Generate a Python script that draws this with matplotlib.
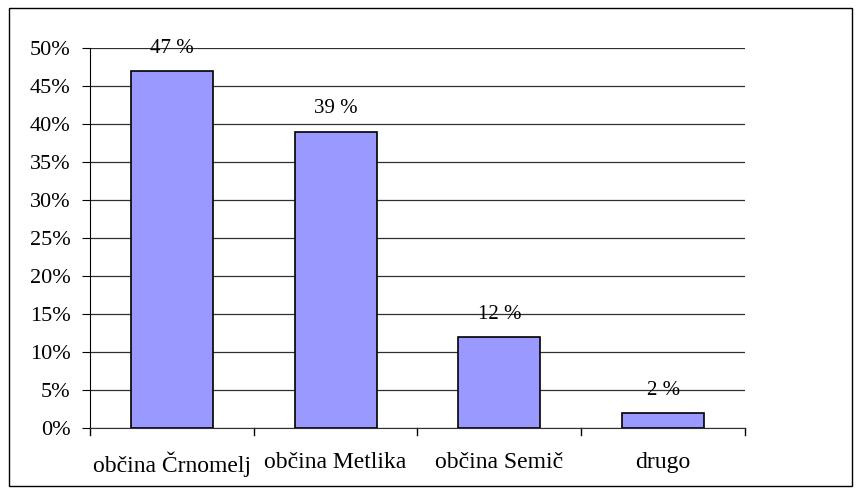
import matplotlib
matplotlib.use("Agg")
import matplotlib.pyplot as plt
from matplotlib.patches import Rectangle
from matplotlib.ticker import FuncFormatter, MultipleLocator

categories = ["občina Črnomelj", "občina Metlika", "občina Semič", "drugo"]
values = [47, 39, 12, 2]
labels = ["47 %", "39 %", "12 %", "2 %"]

plt.rcParams['font.family'] = ['Liberation Serif', 'DejaVu Serif']

W, H = 862, 494
fig = plt.figure(figsize=(W / 100, H / 100), dpi=100)
fig.patch.set_facecolor("white")
fig.add_artist(Rectangle((9 / W, 1 - 486 / H), (852 - 9) / W, (486 - 8) / H,
                         transform=fig.transFigure, fill=False, edgecolor="black", lw=1))

ax = fig.add_axes([90 / W, 1 - 428 / H, (745 - 90) / W, (428 - 48) / H])
x = list(range(len(categories)))
ax.bar(x, values, width=0.5, color="#9999FF", edgecolor="black", linewidth=1.2, zorder=3)
for xi, v, lab in zip(x, values, labels):
    ax.annotate(lab, (xi, v), xytext=(0, 9.5), textcoords="offset points",
                ha="center", va="bottom", fontsize=15)

ax.set_xlim(-0.5, len(categories) - 0.5)
ax.set_ylim(0, 50)
ax.yaxis.set_major_locator(MultipleLocator(5))
ax.yaxis.set_major_formatter(FuncFormatter(lambda v, p: f"{int(v)}%"))
ax.grid(axis="y", color="#303030", linewidth=0.9, zorder=0)
ax.set_xticks(x)
ax.set_xticklabels(categories, fontsize=17)
ax.tick_params(axis="x", length=0, pad=17)
ax.tick_params(axis="y", length=6, direction="out", labelsize=16, pad=8)
for xb in [i - 0.5 for i in range(len(categories) + 1)]:
    ax.plot([xb, xb], [0, -0.9], color="black", lw=1, clip_on=False)
for s in ["top", "right"]:
    ax.spines[s].set_visible(False)
ax.spines["left"].set_color("black")
ax.spines["bottom"].set_color("#303030")

fig.savefig("out.png", dpi=100)
